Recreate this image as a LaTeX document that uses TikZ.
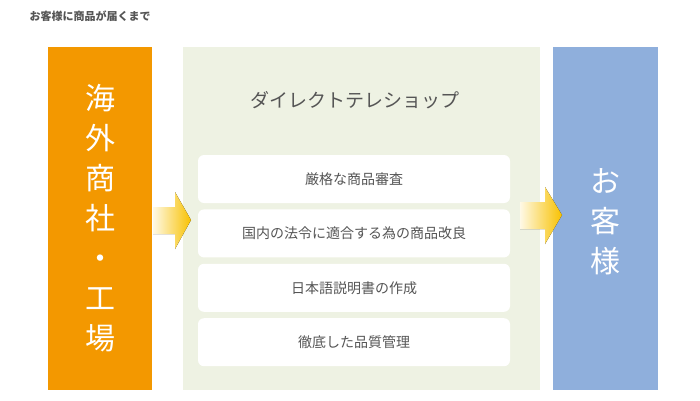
\documentclass[tikz,border=0pt]{standalone}
\usepackage{fontspec}
\setmainfont{Noto Sans CJK JP}
\usetikzlibrary{positioning}
\definecolor{supplier}{HTML}{F39800}
\definecolor{customer}{HTML}{8FAFDC}
\definecolor{panel}{HTML}{EEF2E3}
\definecolor{textgray}{HTML}{555555}
\definecolor{arrowyel}{HTML}{F8C100}
\tikzset{
  stage/.style={fill=white, rounded corners=6pt, minimum width=312pt, minimum height=48pt, text=textgray, font=\fontsize{14}{14}\selectfont},
  bigtext/.style={text=white, align=center, font=\fontsize{30}{40}\selectfont},
  flow/.style={left color=arrowyel!10, right color=arrowyel, draw=none}
}
\begin{document}
\begin{tikzpicture}[x=1pt,y=-1pt]
		\useasboundingbox (0,0) rectangle (700,400);
		\node[anchor=west, text=textgray, font=\fontsize{11}{11}\selectfont\bfseries] (title) at (26,16) {お客様に商品が届くまで};
		\fill[supplier] (48,47) rectangle (152,390);
		\fill[panel] (183,47) rectangle (540,390);
		\fill[customer] (553,47) rectangle (658,390);
		\node[bigtext] (maker) at (100,218) {海\\外\\商\\社\\・\\工\\場};
		\node[bigtext] (client) at (605,222) {お\\客\\様};
		\node[text=textgray, font=\fontsize{19}{19}\selectfont] (shop) at (355,100) {ダイレクトテレショップ};
		\node[stage] (check) at (354,179) {厳格な商品審査};
		\node[stage, below=6pt of check] (law) {国内の法令に適合する為の商品改良};
		\node[stage, below=6pt of law] (manual) {日本語説明書の作成};
		\node[stage, below=6pt of manual] (quality) {徹底した品質管理};
		\fill[flow] (153,207) -- (175,207) -- (175,192) -- (191,220) -- (175,249) -- (175,234) -- (153,234) -- cycle;
		\fill[flow] (520,202) -- (545,202) -- (545,187) -- (562,215) -- (545,244) -- (545,229) -- (520,229) -- cycle;
	\end{tikzpicture}
\end{document}
